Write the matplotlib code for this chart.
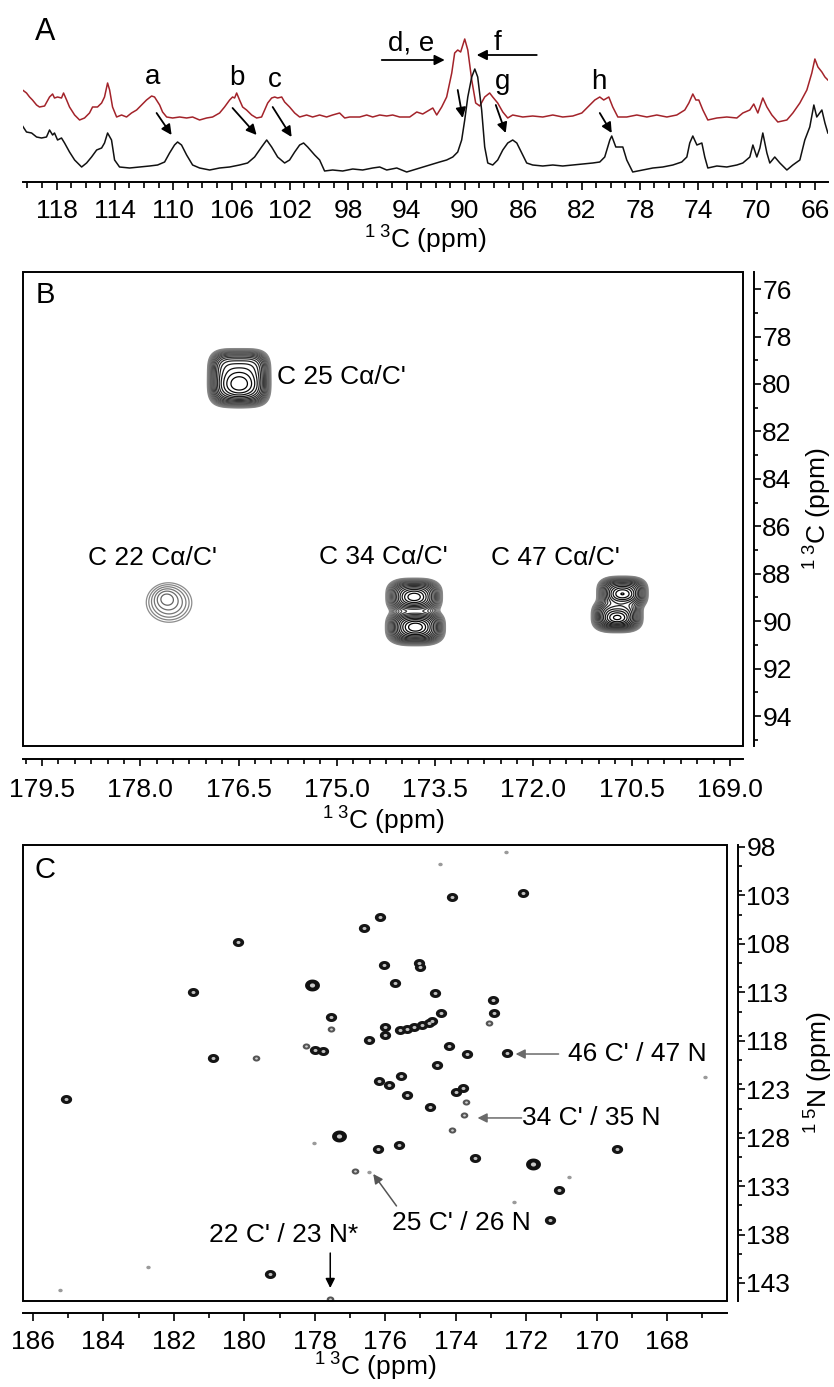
import numpy as np
import matplotlib
matplotlib.use('Agg')
import matplotlib.pyplot as plt
from matplotlib.ticker import MultipleLocator, FixedLocator, FixedFormatter
from matplotlib.patches import Rectangle
from matplotlib.path import Path

plt.rcParams['font.family'] = ['Liberation Sans', 'DejaVu Sans']
plt.rcParams['mathtext.fontset'] = 'custom'
plt.rcParams['mathtext.rm'] = 'Liberation Sans'
plt.rcParams['mathtext.it'] = 'Liberation Sans:italic'

# ---------------- Panel A data: 1D 13C spectra ----------------
ppm_red = [120.33,120.06,119.85,119.65,119.37,119.17,118.82,118.48,118.27,118.14,
           117.93,117.66,117.52,117.31,117.11,116.76,116.42,116.08,115.74,115.53,
           115.19,114.91,114.71,114.50,114.36,114.16,113.88,113.54,113.20,112.86,
           112.51,112.17,111.83,111.48,111.28,110.93,110.73,110.45,110.04,109.56,
           109.08,108.67,108.19,107.71,107.30,106.82,106.48,106.13,105.93,105.79,
           105.65,105.45,105.24,104.97,104.62,104.28,103.94,103.73,103.52,103.25,
           103.04,102.84,102.56,102.36,102.02,101.67,101.33,100.85,100.44,99.96,
           99.48,99.07,98.59,98.24,97.90,97.21,96.73,96.32,95.84,95.36,
           94.95,94.47,93.78,93.30,92.89,92.20,91.93,91.59,91.25,90.90,
           90.70,90.49,90.29,90.01,89.80,89.53,89.26,88.98,88.64,88.30,
           88.09,87.75,87.40,87.06,86.72,86.03,85.35,84.66,83.97,83.29,
           82.60,81.98,81.57,81.09,80.75,80.48,80.13,79.86,79.51,78.90,
           78.21,77.52,76.84,76.15,75.47,74.92,74.64,74.37,74.16,73.96,
           73.68,73.34,72.72,72.04,71.35,70.94,70.46,70.19,69.91,69.57,
           69.29,68.95,68.54,67.92,67.51,67.03,66.55,66.21,66.00,65.79,
           65.52,65.31,65.11]
int_red = [92,89,85,82,77,75,76,85,88,84,
           85,84,89,82,75,67,62,64,69,75,
           75,79,85,99,92,75,65,67,65,69,
           72,77,82,86,85,77,70,65,64,65,
           64,65,62,64,65,69,75,82,85,84,
           89,82,75,72,67,64,65,72,79,84,
           85,84,85,80,75,69,65,67,65,67,
           65,67,69,64,65,65,67,65,67,66,
           67,65,65,70,68,74,67,75,85,109,
           129,132,130,143,132,102,79,76,85,89,
           85,79,70,64,67,65,66,65,67,65,
           66,69,75,82,85,82,85,75,65,65,
           67,65,67,65,67,72,79,88,82,82,
           72,62,64,65,64,69,72,78,69,84,
           75,67,60,62,69,79,92,109,123,115,
           110,105,102]

ppm_black = [120.33,120.06,119.71,119.37,119.03,118.69,118.48,118.27,118.14,117.93,
             117.66,117.45,117.11,116.76,116.28,115.94,115.60,115.25,114.91,114.71,
             114.50,114.23,114.02,113.68,112.99,112.31,111.62,111.07,110.59,110.25,
             109.91,109.70,109.43,109.08,108.67,108.19,107.50,106.82,106.13,105.45,
             104.90,104.42,103.94,103.59,103.25,102.84,102.36,102.02,101.67,101.33,
             101.06,100.78,100.30,99.96,99.62,99.07,98.38,97.69,97.01,96.32,
             95.84,95.36,94.67,93.99,93.10,92.41,91.73,91.25,90.83,90.49,
             90.22,90.01,89.80,89.53,89.32,89.12,88.85,88.64,88.43,88.09,
             87.75,87.40,87.06,86.72,86.44,86.10,85.76,85.35,84.66,83.97,
             83.29,82.60,81.92,81.23,80.75,80.41,80.06,79.93,79.65,79.38,
             79.17,78.90,78.49,77.80,77.11,76.43,75.74,75.13,74.78,74.58,
             74.37,74.09,73.75,73.55,73.34,72.72,72.04,71.35,70.94,70.46,
             70.25,69.98,69.77,69.57,69.29,69.09,68.75,68.40,67.92,67.51,
             67.03,66.69,66.35,66.07,65.87,65.52,65.31,65.11]
int_black = [56,50,49,45,44,45,52,47,49,42,
             44,39,30,22,15,19,25,32,34,39,
             49,42,22,15,14,15,16,17,20,29,
             37,40,37,27,17,14,12,14,15,17,
             19,25,35,42,35,25,19,22,30,37,
             39,35,27,22,11,12,11,13,12,14,
             15,12,14,10,14,17,20,22,25,30,
             42,62,85,105,113,105,72,35,19,17,
             22,32,39,42,39,29,19,17,16,17,
             16,17,18,19,20,25,42,46,35,35,
             35,22,10,12,14,15,17,20,25,39,
             46,37,39,25,14,16,15,17,19,25,
             37,25,34,49,29,19,25,19,12,17,
             22,42,55,77,65,72,59,49]

ticksA = [118, 114, 110, 106, 102, 98, 94, 90, 86, 82, 78, 74, 70, 66]

lettersA = ['a', 'b', 'c', 'g', 'h']
letter_ppm = [111.41, 105.65, 103.05, 87.40, 80.82]
letter_int = [105, 104, 102, 100, 100]
arrow_tail_ppm = [111.14, 105.93, 103.18, 87.88, 80.75, 90.49]
arrow_tail_int = [69, 74, 75, 77, 69, 92]
arrow_head_ppm = [110.11, 104.28, 101.88, 87.20, 79.93, 90.15]
arrow_head_int = [47, 47, 45, 49, 49, 64]

# ---------------- Panel B data: 2D 13C-13C peaks ----------------
ticksB_x = [179.5, 178.0, 176.5, 175.0, 173.5, 172.0, 170.5, 169.0]
ticksB_y = [76, 78, 80, 82, 84, 86, 88, 90, 92, 94]
pkB_c = [176.49, 177.56, 173.82, 173.80, 170.64, 170.72]
pkB_h = [79.75, 89.22, 88.95, 90.25, 88.80, 89.78]
pkB_hcore = [80.00, 89.00, 88.98, 90.25, 88.85, 89.85]
pkB_amp = [1.0, 0.072, 0.8, 1.0, 0.85, 0.9]
pkB_wc = [0.37, 0.37, 0.31, 0.32, 0.28, 0.28]
pkB_wh = [0.95, 0.88, 0.55, 0.55, 0.50, 0.50]
pkB_p = [4, 2, 3, 3, 3, 3]
labB_txt = ["C 25 Cα/C'", "C 22 Cα/C'", "C 34 Cα/C'", "C 47 Cα/C'"]
labB_c = [175.91, 177.82, 174.29, 171.67]
labB_h = [79.71, 87.34, 87.30, 87.34]
labB_ha = ['left', 'center', 'center', 'center']

# ---------------- Panel C data: 2D 13C-15N peaks ----------------
ticksC_x = [186, 184, 182, 180, 178, 176, 174, 172, 170, 168]
ticksC_y = [98, 103, 108, 113, 118, 123, 128, 133, 138, 143]
pkC_c = [174.45, 172.56, 174.11, 172.10, 176.16, 176.61, 180.19, 176.04, 175.03, 175.00,
         178.07, 175.71, 181.46, 174.58, 172.94, 172.90, 173.06, 174.41, 177.55, 177.55,
         176.00, 176.00, 175.57, 175.37, 175.17, 174.97, 174.77, 174.66, 176.47, 178.24,
         177.98, 177.76, 180.90, 179.66, 174.19, 173.67, 172.54, 174.53, 175.56, 176.19,
         175.88, 173.98, 173.78, 173.72, 175.38, 174.73, 185.07, 173.77, 174.11, 177.31,
         178.03, 176.21, 175.60, 173.45, 171.81, 169.41, 176.87, 176.46, 170.79, 171.07,
         172.34, 171.31, 166.93, 182.74, 185.23, 179.26, 177.57]
pkC_n = [99.76, 98.49, 103.14, 102.72, 105.23, 106.40, 107.78, 110.18, 109.95, 110.40,
         112.22, 112.07, 113.00, 113.10, 113.80, 115.09, 116.12, 115.17, 115.60, 116.76,
         116.58, 117.41, 116.89, 116.79, 116.58, 116.38, 116.17, 115.96, 117.92, 118.51,
         118.96, 119.06, 119.75, 119.78, 118.54, 119.40, 119.30, 120.50, 121.59, 122.16,
         122.57, 123.29, 122.88, 124.29, 123.60, 124.84, 124.01, 125.66, 127.21, 127.81,
         128.52, 129.20, 128.79, 130.10, 130.74, 129.17, 131.49, 131.51, 132.03, 133.40,
         134.61, 136.53, 121.71, 141.32, 143.72, 142.07, 144.65]
pkC_kind = ['t', 't', 'n', 'n', 'n', 'n', 'n', 'n', 'n', 'n',
            'b', 'n', 'n', 'n', 'n', 'n', 'g', 'n', 'n', 'g',
            'n', 'n', 'n', 'n', 'n', 'n', 'n', 'n', 'n', 'g',
            'n', 'n', 'n', 'g', 'n', 'n', 'n', 'n', 'n', 'n',
            'n', 'n', 'n', 'g', 'n', 'n', 'n', 'g', 'g', 'b',
            't', 'n', 'n', 'n', 'b', 'n', 'g', 't', 't', 'n',
            't', 'n', 't', 't', 't', 'n', 'g']

annC_txt = ["46 C' / 47 N", "34 C' / 35 N", "25 C' / 26 N", "22 C' / 23 N*"]
annC_tc = [170.80, 172.13, 175.80, 178.87]
annC_tn = [119.37, 125.97, 136.81, 138.05]
annC_ha = ['left', 'left', 'left', 'center']
annC_tail_c = [171.08, 172.13, 175.68, 177.56]
annC_tail_n = [119.37, 125.97, 135.05, 139.91]
annC_head_c = [172.30, 173.38, 176.34, 177.56]
annC_head_n = [119.37, 125.97, 131.75, 143.52]
annC_col = ['#6a6a6a', '#6a6a6a', '#555555', 'black']

# ---------------- figure ----------------
W, H = 834, 1387
fig = plt.figure(figsize=(W / 100, H / 100), dpi=100)
FS = 19
LW = 1.4
XLAB13 = r'$^{1\ 3}$C (ppm)'
YLAB15 = r'$^{1\ 5}$N (ppm)'


def box(l, t, r, b):
    return [l / W, 1 - b / H, (r - l) / W, (b - t) / H]


def px2pt(p):
    return p * 72 / 100

# ---- Panel A ----
axA = fig.add_axes(box(23, 15, 828, 182))
axA.plot(ppm_red, int_red, color='#a3232a', lw=1.1)
axA.plot(ppm_black, int_black, color='#111111', lw=1.1)
axA.set_xlim(120.3, 65.1)
axA.set_ylim(0, 167)
for s in ['top', 'left', 'right']:
    axA.spines[s].set_visible(False)
axA.spines['bottom'].set_linewidth(LW)
axA.set_yticks([])
axA.xaxis.set_major_locator(FixedLocator(ticksA))
axA.xaxis.set_minor_locator(MultipleLocator(1))
axA.tick_params(axis='x', which='major', direction='out', length=6, width=1.2,
                labelsize=FS, pad=6)
axA.tick_params(axis='x', which='minor', direction='out', length=4.5, width=1.2)
axA.set_xlabel(XLAB13, fontsize=FS)
axA.xaxis.set_label_coords(0.5, -0.25)

arrow_kw = dict(arrowstyle='-|>', color='black', lw=1.3, mutation_scale=15,
                shrinkA=0, shrinkB=0)
for t, x, y in zip(lettersA, letter_ppm, letter_int):
    axA.text(x, y, t, fontsize=20, ha='center', va='center')
for x0, y0, x1, y1 in zip(arrow_tail_ppm, arrow_tail_int, arrow_head_ppm, arrow_head_int):
    axA.annotate('', xy=(x1, y1), xytext=(x0, y0), arrowprops=arrow_kw)
axA.text(93.72, 139, 'd, e', fontsize=20, ha='center', va='center')
axA.text(87.75, 139, 'f', fontsize=20, ha='center', va='center')
axA.annotate('', xy=(91.38, 122), xytext=(95.70, 122), arrowprops=arrow_kw, annotation_clip=False)
axA.annotate('', xy=(89.19, 127), xytext=(85.07, 127), arrowprops=arrow_kw, annotation_clip=False)
fig.text(45 / W, 1 - 32 / H, 'A', fontsize=22, ha='center', va='center')

# ---- Panel B ----
axB = fig.add_axes(box(23, 272, 743, 746))
gx = np.linspace(168.7, 179.9, 800)
gy = np.linspace(75.1, 95.4, 800)
X, Y = np.meshgrid(gx, gy)
Z = np.zeros_like(X)
for c, h, hc, a, wc, wh, p in zip(pkB_c, pkB_h, pkB_hcore, pkB_amp, pkB_wc, pkB_wh, pkB_p):
    if p == 2:
        Z += a * np.exp(-(((X - c) / wc) ** 2 + ((Y - h) / wh) ** 2))
        Z += 0.35 * a * np.exp(-(((X - c - 0.05) / (0.4 * wc)) ** 2 + ((Y - hc) / (0.4 * wh)) ** 2))
    else:
        Z += 0.55 * a * np.exp(-(np.abs((X - c) / wc) ** p + np.abs((Y - h) / wh) ** p))
        Z += 0.5 * a * np.exp(-(((X - c) / (0.55 * wc)) ** 2 + ((Y - hc) / (0.5 * wh)) ** 2))
levels = 0.03 * 1.22 ** np.arange(18)
cols = [str(v) for v in np.linspace(0.55, 0.0, len(levels))]
axB.contour(X, Y, Z, levels=levels, colors=cols, linewidths=0.9)
axB.set_xlim(179.79, 168.8)
axB.set_ylim(95.26, 75.28)
for t, c, h, ha in zip(labB_txt, labB_c, labB_h, labB_ha):
    axB.text(c, h, t, fontsize=FS, ha=ha, va='center')
axB.spines['top'].set_visible(False)
axB.spines['left'].set_visible(False)
axB.spines['bottom'].set_position(('outward', px2pt(13)))
axB.spines['right'].set_position(('outward', px2pt(11)))
axB.spines['bottom'].set_linewidth(LW)
axB.spines['right'].set_linewidth(LW)
axB.add_patch(Rectangle((0, 0), 1, 1, transform=axB.transAxes, fill=False,
                        lw=LW, color='black', clip_on=False, zorder=5))
axB.yaxis.tick_right()
axB.xaxis.set_major_locator(FixedLocator(ticksB_x))
axB.xaxis.set_major_formatter(FixedFormatter(['%.1f' % v for v in ticksB_x]))
axB.xaxis.set_minor_locator(MultipleLocator(0.25))
axB.yaxis.set_major_locator(FixedLocator(ticksB_y))
axB.yaxis.set_minor_locator(MultipleLocator(1))
axB.tick_params(axis='x', which='major', direction='out', length=5, width=1.2,
                labelsize=FS, pad=9)
axB.tick_params(axis='x', which='minor', direction='out', length=3.5, width=1.2)
axB.tick_params(axis='y', which='major', direction='out', length=5, width=1.2,
                labelsize=FS, pad=1)
axB.tick_params(axis='y', which='minor', direction='out', length=3, width=1.2)
axB.set_xlabel(XLAB13, fontsize=FS)
axB.xaxis.set_label_coords(0.5, -0.125)
axB.yaxis.set_label_position('right')
axB.set_ylabel(XLAB13, fontsize=FS)
axB.yaxis.set_label_coords(1.082, 0.5)
fig.text(45 / W, 1 - 295 / H, 'B', fontsize=21, ha='center', va='center')

# ---- Panel C ----
axC = fig.add_axes(box(23, 845, 727, 1301))
th = np.linspace(0, 2 * np.pi, 40)
ell = Path(np.column_stack([np.cos(th) * 1.25, np.sin(th)]))
style_out = {'b': (115, '#111111'), 'n': (66, '#151515'), 'g': (30, '#555555'), 't': (10, '#9a9a9a')}
style_in = {'b': (14, '#c8c8c8'), 'n': (8, '#c0c0c0'), 'g': (4, '#d0d0d0')}
pkC_c_arr = np.array(pkC_c)
pkC_n_arr = np.array(pkC_n)
kinds = np.array(pkC_kind)
for k, (s, col) in style_out.items():
    m = kinds == k
    axC.scatter(pkC_c_arr[m], pkC_n_arr[m], s=s, marker=ell, color=col, lw=0, zorder=3)
for k, (s, col) in style_in.items():
    m = kinds == k
    axC.scatter(pkC_c_arr[m], pkC_n_arr[m], s=s, marker=ell, color=col, lw=0, zorder=4)
axC.set_xlim(186.28, 166.3)
axC.set_ylim(144.86, 97.8)
for t, x, y, ha in zip(annC_txt, annC_tc, annC_tn, annC_ha):
    axC.text(x, y, t, fontsize=FS, ha=ha, va='center')
for x0, y0, x1, y1, col in zip(annC_tail_c, annC_tail_n, annC_head_c, annC_head_n, annC_col):
    axC.annotate('', xy=(x1, y1), xytext=(x0, y0),
                 arrowprops=dict(arrowstyle='-|>', color=col, lw=1.1, mutation_scale=14,
                                 shrinkA=0, shrinkB=0))
axC.spines['top'].set_visible(False)
axC.spines['left'].set_visible(False)
axC.spines['bottom'].set_position(('outward', px2pt(12)))
axC.spines['right'].set_position(('outward', px2pt(11)))
axC.spines['bottom'].set_linewidth(LW)
axC.spines['right'].set_linewidth(LW)
axC.add_patch(Rectangle((0, 0), 1, 1, transform=axC.transAxes, fill=False,
                        lw=LW, color='black', clip_on=False, zorder=5))
axC.yaxis.tick_right()
axC.xaxis.set_major_locator(FixedLocator(ticksC_x))
axC.xaxis.set_minor_locator(MultipleLocator(1))
axC.yaxis.set_major_locator(FixedLocator(ticksC_y))
axC.yaxis.set_minor_locator(MultipleLocator(2.5))
axC.tick_params(axis='x', which='major', direction='out', length=6, width=1.2,
                labelsize=FS, pad=6)
axC.tick_params(axis='x', which='minor', direction='out', length=3.5, width=1.2)
axC.tick_params(axis='y', which='major', direction='out', length=5, width=1.2,
                labelsize=FS, pad=1)
axC.tick_params(axis='y', which='minor', direction='out', length=3, width=1.2)
axC.set_xlabel(XLAB13, fontsize=FS)
axC.xaxis.set_label_coords(0.5, -0.11)
axC.yaxis.set_label_position('right')
axC.set_ylabel(YLAB15, fontsize=FS)
axC.yaxis.set_label_coords(1.108, 0.5)
fig.text(45 / W, 1 - 870 / H, 'C', fontsize=21, ha='center', va='center')

fig.savefig('out.png', dpi=100)
